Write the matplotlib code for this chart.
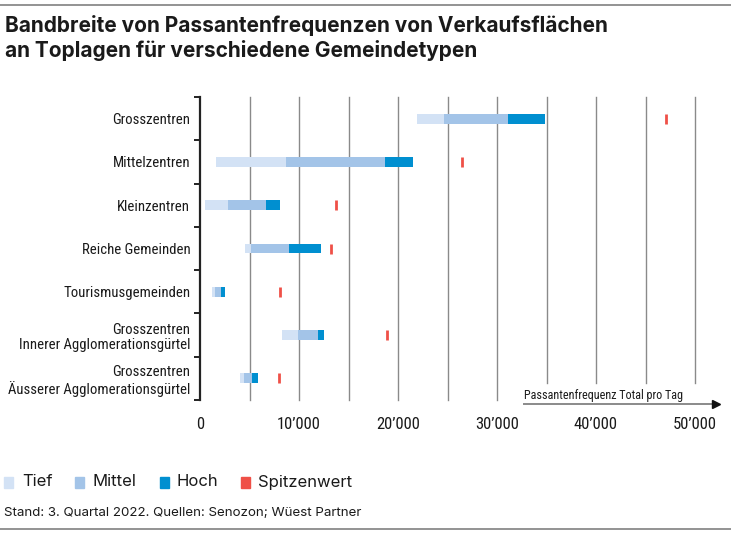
import matplotlib
matplotlib.use("Agg")
import matplotlib.pyplot as plt
from matplotlib.patches import Rectangle
from matplotlib.lines import Line2D

COND = ["Roboto Condensed", "Liberation Sans", "DejaVu Sans"]
WIDE = ["Inter", "Liberation Sans", "DejaVu Sans"]
plt.rcParams['font.family'] = COND

categories = ["Grosszentren", "Mittelzentren", "Kleinzentren", "Reiche Gemeinden",
              "Tourismusgemeinden", "Grosszentren\nInnerer Agglomerationsgürtel",
              "Grosszentren\nÄusserer Agglomerationsgürtel"]
tief_start = [21900, 1600, 500, 4500, 1200, 8300, 4050]
mittel_start = [24650, 8700, 2850, 5150, 1500, 9850, 4400]
hoch_start = [31100, 18650, 6650, 9000, 2100, 11950, 5250]
hoch_end = [34850, 21550, 8100, 12200, 2500, 12500, 5850]
spitzenwert = [47100, 26500, 13700, 13250, 8100, 18900, 8000]
xticks = [0, 10000, 20000, 30000, 40000, 50000]
xtick_labels = ["0", "10’000", "20’000", "30’000", "40’000", "50’000"]
legend_labels = ["Tief", "Mittel", "Hoch", "Spitzenwert"]

c_tief = "#d3e2f5"
c_mittel = "#a3c4e8"
c_hoch = "#008fd0"
c_spitze = "#ef5047"
colors = [c_tief, c_mittel, c_hoch, c_spitze]

W, H = 731, 536
fig = plt.figure(figsize=(W / 100, H / 100), dpi=100)
ax = fig.add_axes([200 / W, 1 - 400 / H, 495 / W, 303 / H])

ypos = list(range(len(categories)))
bh = 0.23
tw = [m - t for t, m in zip(tief_start, mittel_start)]
mw = [h - m for m, h in zip(mittel_start, hoch_start)]
hw = [e - h for h, e in zip(hoch_start, hoch_end)]
ax.barh(ypos, tw, left=tief_start, height=bh, color=c_tief, zorder=3)
ax.barh(ypos, mw, left=mittel_start, height=bh, color=c_mittel, zorder=3)
ax.barh(ypos, hw, left=hoch_start, height=bh, color=c_hoch, zorder=3)
ax.plot(spitzenwert, ypos, linestyle="none", marker="|", ms=7.5, mew=2.0,
        color=c_spitze, zorder=4)

ax.set_xlim(0, 50000)
ax.set_ylim(len(categories) - 0.5, -0.5)

# grid lines every 5000; lines right of the annotation stop higher
for g in range(5000, 50001, 5000):
    ymin = 0.0 if g < 35000 else 17 / 303
    ax.axvline(g, ymin=ymin, ymax=1.0, color="#8a8a8a", lw=1.0, zorder=1,
               clip_on=False)

for s in ["top", "right", "bottom"]:
    ax.spines[s].set_visible(False)
ax.spines["left"].set_linewidth(1.6)
ax.spines["left"].set_color("#222222")

ax.set_yticks(ypos)
ax.set_yticklabels(categories, fontsize=10.6, linespacing=1.15)
ax.tick_params(axis="y", which="major", length=0, pad=7)
ax.set_yticks([i - 0.5 for i in range(len(categories) + 1)], minor=True)
ax.tick_params(axis="y", which="minor", length=4, width=1.4, color="#222222")
for lbl in ax.get_yticklabels():
    lbl.set_multialignment("right")
    lbl.set_color("#1a1a1a")

ax.set_xticks(xticks)
ax.set_xticklabels(xtick_labels, fontsize=12)
ax.tick_params(axis="x", length=0, pad=12, colors="#1a1a1a")

# axis annotation with arrow
fig.text(524 / W, 1 - 396 / H, "Passantenfrequenz Total pro Tag", fontsize=8.7,
         ha="left", va="center", color="#1a1a1a")
fig.add_artist(Line2D([524 / W, 712 / W], [1 - 404 / H, 1 - 404 / H],
                      color="#8a8a8a", lw=1.4, transform=fig.transFigure))
fig.add_artist(Line2D([716 / W], [1 - 404 / H], marker=">", ms=6, color="#111111",
                      linestyle="none", transform=fig.transFigure))

# title
fig.text(5 / W, 1 - 15 / H, "Bandbreite von Passantenfrequenzen von Verkaufsflächen\nan Toplagen für verschiedene Gemeindetypen",
         fontsize=15, fontweight="bold", family=WIDE, color="#1a1a1a",
         ha="left", va="top", linespacing=1.25)

# top and bottom rules
fig.add_artist(Line2D([0, 1], [1 - 5 / H, 1 - 5 / H], color="#8a8a8a", lw=1.3,
                      transform=fig.transFigure))
fig.add_artist(Line2D([0, 1], [1 - 529 / H, 1 - 529 / H], color="#8a8a8a", lw=1.3,
                      transform=fig.transFigure))

# legend
sq_x = [4, 75, 160, 241]
tx_x = [22, 92, 177, 258]
for x0, xt, lab, col in zip(sq_x, tx_x, legend_labels, colors):
    fig.add_artist(Rectangle((x0 / W, 1 - 488 / H), 9 / W, 11 / H, color=col,
                             transform=fig.transFigure))
    fig.text(xt / W, 1 - 482 / H, lab, fontsize=12, family=WIDE, ha="left",
             va="center", color="#1a1a1a")

fig.text(4 / W, 1 - 513 / H, "Stand: 3. Quartal 2022. Quellen: Senozon; Wüest Partner",
         fontsize=9.6, family=WIDE, ha="left", va="center", color="#1a1a1a")

fig.savefig("out.png", dpi=100)
